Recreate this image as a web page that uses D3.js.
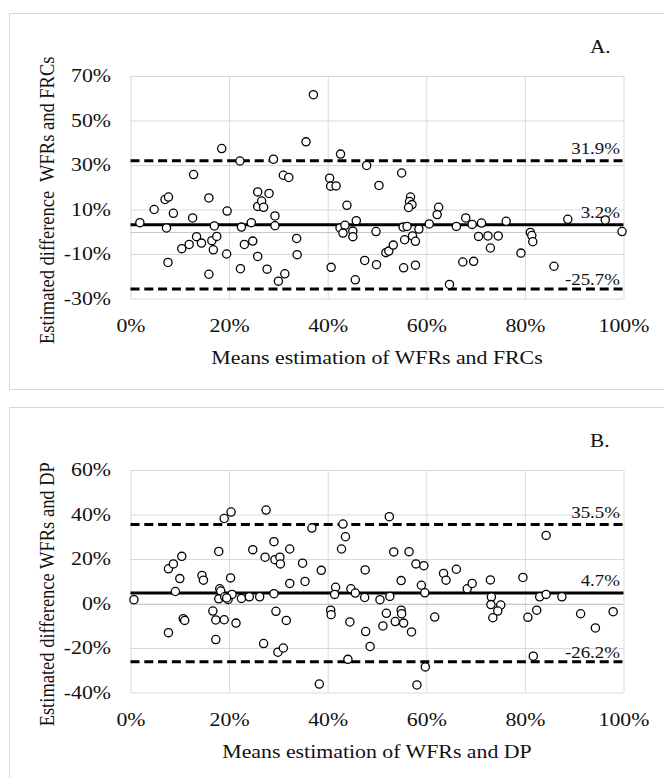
<!DOCTYPE html>
<html>
<head>
<meta charset="utf-8">
<script src="https://cdn.jsdelivr.net/npm/d3@7"></script>
<style>
  body { margin: 0; background: #fff; }
  svg { display: block; }
  text { font-family: "Liberation Serif", "Times New Roman", serif; fill: #111; }
</style>
</head>
<body>
<div id="chart"></div>
<script>
// panel A : WFRs vs FRCs
var aMean = [1.9, 4.8, 7.0, 7.7, 8.7, 7.3, 7.6, 10.4, 11.9, 12.6, 12.8, 13.4, 14.4, 15.9, 15.9, 16.5, 17.0, 16.8, 17.5, 18.5,
  19.6, 19.5, 22.2, 22.5, 22.3, 23.1, 24.5, 24.8, 25.8, 25.8, 26.6, 27.0, 25.8, 28.1, 27.7, 29.0, 29.3, 29.3, 30.0, 31.3,
  31.0, 32.1, 33.7, 33.8, 37.1, 35.6, 42.6, 40.4, 40.6, 41.7, 43.9, 42.5, 43.5, 43.1, 45.1, 45.1, 45.8, 40.7, 45.6, 47.5,
  47.9, 49.8, 49.9, 50.4, 51.8, 52.4, 53.3, 55.0, 55.3, 56.1, 55.4, 55.6, 56.8, 56.6, 57.1, 56.4, 57.2, 57.8, 57.8, 58.5,
  60.6, 62.5, 62.2, 64.7, 66.1, 67.4, 68.0, 69.3, 71.2, 70.6, 72.5, 74.6, 73.0, 69.6, 76.2, 79.2, 81.1, 81.4, 81.6, 85.9,
  88.7, 96.3, 99.7];
var aDiff = [4.1, 10.0, 14.5, 15.6, 8.3, 1.7, -13.8, -7.6, -5.7, 6.2, 25.7, -2.2, -5.1, 15.2, -19.1, -4.0, 2.6, -8.1, -2.1, 37.4,
  9.3, -10.0, 31.8, 2.1, -16.6, -5.7, 4.1, -4.2, 17.9, 11.4, 13.8, 11.0, -11.1, 17.2, -16.8, 32.6, 7.1, 2.7, -22.2, -18.9,
  25.4, 24.4, -3.0, -10.3, 61.6, 40.4, 34.9, 24.1, 20.5, 20.6, 11.9, 1.7, 2.9, -0.6, 0.3, -2.2, 5.0, -16.0, -21.6, -12.9,
  29.8, 0.1, -14.8, 20.8, -9.4, -8.7, -6.0, 26.4, 2.1, 2.4, -16.2, -3.6, 15.6, 13.6, 12.2, 10.9, -1.9, -4.3, -15.0, 1.2,
  3.5, 11.0, 7.7, -23.7, 2.4, -13.6, 6.2, 3.3, 3.9, -2.1, -1.9, -1.9, -7.3, -13.3, 4.7, -9.6, -0.3, -1.7, -4.5, -15.5,
  5.6, 5.3, 0.1];
var aLines = [31.9, 3.2, -25.7];
var aYTicks = [70, 50, 30, 10, -10, -30];

// panel B : WFRs vs DP
var bMean = [0.7, 7.7, 8.7, 10.4, 10.0, 9.1, 7.7, 10.7, 11.0, 14.5, 14.8, 16.7, 17.3, 17.3, 17.9, 18.1, 18.3, 17.9, 19.0, 20.4,
  19.0, 20.3, 19.1, 19.8, 20.6, 19.5, 21.4, 22.5, 24.1, 24.8, 26.2, 27.3, 27.5, 27.0, 29.1, 29.3, 30.3, 30.4, 29.1, 29.5,
  31.6, 29.9, 31.0, 32.3, 32.3, 34.9, 36.8, 35.4, 38.7, 38.3, 41.6, 41.4, 40.6, 40.7, 43.1, 43.6, 42.8, 44.7, 45.6, 44.5,
  44.1, 47.6, 47.5, 47.7, 48.6, 50.6, 51.2, 52.5, 52.6, 51.9, 53.4, 53.7, 54.9, 54.9, 55.0, 55.4, 56.5, 57.0, 57.9, 59.5,
  59.0, 59.7, 59.8, 58.1, 61.7, 63.5, 64.0, 66.1, 68.3, 69.3, 73.0, 73.2, 73.1, 75.1, 74.5, 73.5, 79.6, 80.6, 82.4, 83.0,
  84.3, 84.3, 81.7, 87.5, 91.3, 94.3, 97.9];
var bDiff = [1.7, 15.6, 17.8, 21.2, 11.2, 5.4, -13.1, -6.8, -7.6, 12.6, 10.5, -3.4, -7.4, -16.2, 23.4, 6.6, 5.6, 2.1, 38.2, 41.1,
  -7.3, 11.5, 3.0, 1.8, 4.1, 2.5, -8.8, 2.3, 3.0, 24.2, 3.0, 20.8, 42.0, -18.0, 27.8, 19.7, 20.8, 17.8, 4.4, -3.5,
  -7.6, -21.9, -20.0, 24.5, 9.0, 18.1, 33.9, 9.9, 14.9, -36.2, 7.3, 4.1, -3.0, -5.0, 35.7, 30.0, 24.5, 6.6, 4.7, -8.3,
  -25.1, 15.1, 2.7, -12.6, -19.3, 1.7, -10.1, 39.0, 3.2, -4.4, 23.2, -8.1, 10.3, -3.0, -4.6, -8.8, 23.3, -12.8, 17.8, 17.0,
  8.2, 4.8, -28.5, -36.6, -6.1, 13.5, 10.5, 15.4, 6.6, 9.0, 10.6, 2.9, -0.5, -0.7, -3.4, -6.4, 11.7, -6.2, -3.0, 3.0,
  4.1, 30.6, -23.7, 3.0, -4.6, -11.0, -3.7];
var bLines = [35.5, 4.7, -26.2];
var bYTicks = [60, 40, 20, 0, -20, -40];

var xTicks = [0, 20, 40, 60, 80, 100];

var W = 664, H = 778;
var stretchX = 1.18;

var svg = d3.select("#chart").append("svg")
  .attr("width", W)
  .attr("height", H);

function stretch(sel, k) {
  sel.each(function () {
    var w = this.getComputedTextLength();
    d3.select(this).attr("textLength", w * k).attr("lengthAdjust", "spacingAndGlyphs");
  });
}

function drawPanel(top, letter, means, diffs, lines, yTicks, xTitle, yTitle) {
  var g = svg.append("g").attr("transform", "translate(0," + top + ")");

  // panel frame
  g.append("rect")
    .attr("x", 9.5).attr("y", 0.5)
    .attr("width", 700).attr("height", 376)
    .attr("fill", "none")
    .attr("stroke", "#d9d9d9");

  var plotTop = 63, plotBottom = 285.5;
  var x = d3.scaleLinear().domain([0, 100]).range([130.5, 623.5]);
  var y = d3.scaleLinear().domain([d3.min(yTicks), d3.max(yTicks)]).range([plotBottom, plotTop]);
  var pw = 623.5 - 130.5, ph = plotBottom - plotTop;

  // horizontal gridlines + y labels
  var ya = g.append("g")
    .attr("transform", "translate(130.5,0)")
    .call(d3.axisLeft(y).tickValues(yTicks).tickSize(-pw).tickPadding(19.5).tickFormat(function (d) { return d + "%"; }));
  ya.select(".domain").remove();
  ya.selectAll("line").attr("stroke", "#d9d9d9");
  ya.selectAll("text").attr("font-size", 18.5).attr("font-family", null).attr("fill", "#111");

  // vertical gridlines + x labels
  var xa = g.append("g")
    .attr("transform", "translate(0," + plotBottom + ")")
    .call(d3.axisBottom(x).tickValues(xTicks).tickSize(-ph).tickFormat(function (d) { return d + "%"; }));
  xa.select(".domain").remove();
  xa.selectAll("line").attr("stroke", "#d9d9d9");
  xa.selectAll("text").attr("font-size", 18.5).attr("font-family", null).attr("fill", "#111")
    .attr("y", 33.5).attr("dy", null);

  // zero axis
  g.append("line")
    .attr("x1", x(0)).attr("x2", x(100))
    .attr("y1", Math.round(y(0)) + 0.5).attr("y2", Math.round(y(0)) + 0.5)
    .attr("stroke", "#c8c8c8");

  // mean and limits of agreement
  g.selectAll(".ref").data(lines).enter().append("line")
    .attr("x1", x(0)).attr("x2", x(100))
    .attr("y1", function (d) { return y(d); })
    .attr("y2", function (d) { return y(d); })
    .attr("stroke", "#000")
    .attr("stroke-width", 3)
    .attr("stroke-dasharray", function (d, i) { return i === 1 ? null : "9,4.8"; });

  // points
  g.selectAll(".pt").data(means).enter().append("circle")
    .attr("cx", function (d) { return x(d); })
    .attr("cy", function (d, i) { return y(diffs[i]); })
    .attr("r", 4.1)
    .attr("fill", "#fff")
    .attr("stroke", "#000")
    .attr("stroke-width", 1.3);

  // line labels
  var lab = g.selectAll(".lab").data(lines).enter().append("text")
    .attr("x", 620)
    .attr("y", function (d) { return y(d) - (d < 0 ? 4 : 7); })
    .attr("text-anchor", "end")
    .attr("font-size", 16)
    .text(function (d) { return d.toFixed(1) + "%"; });

  var letterT = g.append("text")
    .attr("x", 590).attr("y", 40)
    .attr("font-size", 18)
    .text(letter);

  var xt = g.append("text")
    .attr("x", 377).attr("y", 351)
    .attr("text-anchor", "middle")
    .attr("font-size", 18.5)
    .text(xTitle);

  g.append("text")
    .attr("transform", "translate(54," + (plotTop + ph / 2 + 13) + ") rotate(-90) scale(1," + stretchX + ")")
    .attr("text-anchor", "middle")
    .attr("font-size", 18.5)
    .attr("xml:space", "preserve")
    .style("white-space", "pre")
    .text(yTitle);

  stretch(ya.selectAll("text"), stretchX);
  stretch(xa.selectAll("text"), stretchX);
  stretch(lab, stretchX);
  stretch(letterT, stretchX);
  stretch(xt, stretchX);
}

drawPanel(13, "A.", aMean, aDiff, aLines, aYTicks,
  "Means estimation of WFRs and FRCs", "Estimated difference  WFRs and FRCs");
drawPanel(407, "B.", bMean, bDiff, bLines, bYTicks,
  "Means estimation of WFRs and DP", "Estimated difference WFRs and DP");
</script>
</body>
</html>
